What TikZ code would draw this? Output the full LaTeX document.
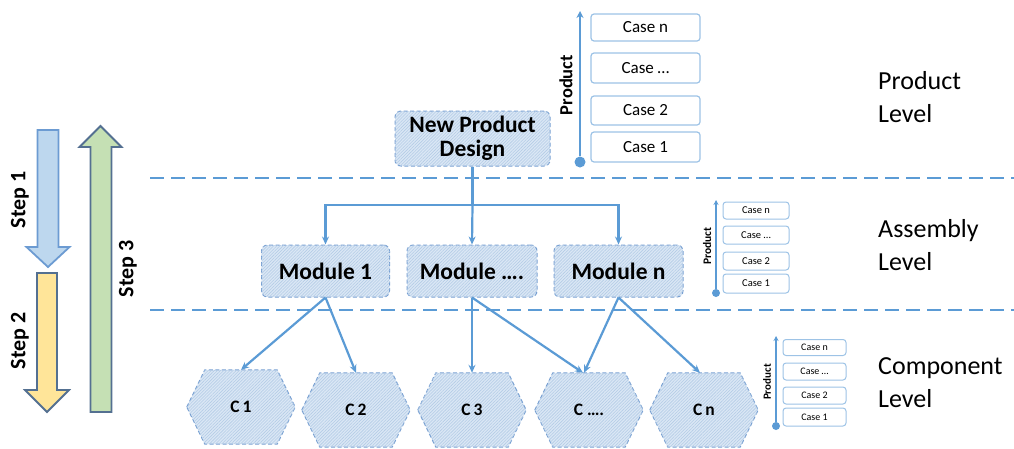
\documentclass[tikz,border=0pt]{standalone}
\usepackage{fontspec}
\setmainfont{Carlito}
\usetikzlibrary{arrows.meta,backgrounds,patterns.meta,calc}
\definecolor{lineblue}{RGB}{91,155,213}
\definecolor{nodeedge}{RGB}{120,160,210}
\definecolor{nodefill}{RGB}{218,231,245}
\definecolor{hatch}{RGB}{180,204,230}
\definecolor{caseedge}{RGB}{157,195,230}
\definecolor{sonefill}{RGB}{189,215,238}
\definecolor{soneedge}{RGB}{108,155,210}
\definecolor{stwofill}{RGB}{255,229,153}
\definecolor{sthreefill}{RGB}{197,224,180}
\definecolor{slate}{RGB}{84,112,145}
\newcommand{\fsz}[2][1.1]{\fontsize{#2}{#1\dimexpr #2pt\relax}\selectfont}
\tikzset{
  levelsep/.style={draw=lineblue, line width=2.6pt, dash pattern=on 14pt off 7pt},
  conn/.style={draw=lineblue, line width=2.2pt},
  connarrow/.style={conn, -{Stealth[length=8pt,width=7pt]}},
  hatched/.style={fill=nodefill, postaction={pattern={Lines[angle=45,distance=2.2pt,line width=0.6pt]}, pattern color=hatch}},
  dashedge/.style={draw=nodeedge, line width=1pt, dash pattern=on 4pt off 2.5pt},
  design/.style={hatched, dashedge, rounded corners=6pt, align=center, inner sep=0pt, font=\bfseries\fontsize{23.5}{24}\selectfont},
  module/.style={hatched, dashedge, rounded corners=6pt, inner sep=0pt, minimum width=128pt, minimum height=52pt, font=\bfseries\fsz{23.5}},
  hexlabel/.style={inner sep=0pt, minimum width=108pt, minimum height=74pt, font=\bfseries\fsz{17.5}},
  hexshape/.style={hatched, dashedge},
  casebox/.style={draw=caseedge, line width=1.2pt, fill=white, rounded corners=3pt, inner sep=0pt},
  axisline/.style={draw=lineblue, line width=2.6pt, -{Stealth[length=7pt,width=7pt]}},
  axisdot/.style={circle, fill=lineblue, inner sep=0pt},
  levellabel/.style={anchor=base west, inner sep=0pt, font=\fsz{26}},
  steplabel/.style={rotate=90, inner sep=0pt, font=\bfseries\fsz{22}}
}
\begin{document}
\begin{tikzpicture}[x=1pt,y=-1pt]
\useasboundingbox (0,0) rectangle (1014,448);

% level separators
\coordinate (sepAl) at (150,178); \coordinate (sepAr) at (1014,178);
\coordinate (sepBl) at (150,310); \coordinate (sepBr) at (1014,310);
\draw[levelsep] (sepAl) -- (sepAr);
\draw[levelsep] (sepBl) -- (sepBr);

% step arrows
\draw[fill=sonefill, draw=soneedge, line width=1.8pt, line join=miter]
  (37.5,130) -- (58.5,130) -- (58.5,247) -- (69.5,247) -- (48,267) -- (26.5,247) -- (37.5,247) -- cycle;
\draw[fill=stwofill, draw=slate, line width=1.8pt, line join=miter]
  (37,273) -- (57,273) -- (57,390) -- (69,390) -- (47,412) -- (25,390) -- (37,390) -- cycle;
\draw[fill=sthreefill, draw=slate, line width=1.8pt, line join=miter]
  (90.5,412) -- (111.5,412) -- (111.5,147) -- (121.5,147) -- (100.5,126) -- (79.5,147) -- (90.5,147) -- cycle;
\node[steplabel] (s1) at (20,200) {Step 1};
\node[steplabel] (s2) at (20,341) {Step 2};
\node[steplabel] (s3) at (128,269) {Step 3};

% product level
\node[design, minimum width=155pt, minimum height=55pt] (npd) at (472.5,138.5) {New Product\\Design};

\node[axisdot, minimum size=11pt] (pdot) at (580,162) {};
\coordinate (ptop) at (580,11);
\draw[axisline] (pdot) -- (ptop);
\node[rotate=90, inner sep=0pt, font=\bfseries\fsz{18.5}] (plab) at (566,85) {Product};
\node[casebox, minimum width=109pt, minimum height=27pt, font=\fsz{17}] (pcn) at (645.5,27.5) {Case n};
\node[casebox, minimum width=109pt, minimum height=30pt, font=\fsz{17}] (pcd) at (645.5,68) {Case \ldots};
\node[casebox, minimum width=109pt, minimum height=29pt, font=\fsz{17}] (pc2) at (645.5,110.5) {Case 2};
\node[casebox, minimum width=109pt, minimum height=30pt, font=\fsz{17}] (pc1) at (645.5,147) {Case 1};

\node[levellabel] (lp1) at (878,89) {Product};
\node[levellabel] (lp2) at (878,122) {Level};

% assembly level
\node[module] (m1) at (325.5,271) {Module 1};
\node[module, minimum width=130pt] (m2) at (472,271) {Module \ldots.};
\node[module, minimum width=129pt] (mn) at (618.5,271) {Module n};

\coordinate (hub) at (472.5,205);
\draw[conn] (npd.south) -- (hub);
\draw[connarrow] (hub) -| (m1.north);
\draw[connarrow] (hub) -- (m2.north);
\draw[connarrow] (hub) -| (mn.north);

\node[axisdot, minimum size=8pt] (adot) at (716,293) {};
\coordinate (atop) at (716,200);
\draw[axisline, line width=1.8pt, -{Stealth[length=5pt,width=5pt]}] (adot) -- (atop);
\node[rotate=90, inner sep=0pt, font=\bfseries\fsz{11.5}] (alab) at (707,246) {Product};
\node[casebox, line width=1pt, minimum width=66pt, minimum height=17pt, font=\fsz{10.5}] (acn) at (756,210.5) {Case n};
\node[casebox, line width=1pt, minimum width=66pt, minimum height=18pt, font=\fsz{10.5}] (acd) at (756,235) {Case \ldots};
\node[casebox, line width=1pt, minimum width=66pt, minimum height=18pt, font=\fsz{10.5}] (ac2) at (756,261) {Case 2};
\node[casebox, line width=1pt, minimum width=66pt, minimum height=19pt, font=\fsz{10.5}] (ac1) at (756,283.5) {Case 1};

\node[levellabel] (la1) at (878,237) {Assembly};
\node[levellabel] (la2) at (878,270) {Level};

% component level
\node[hexlabel] (c1) at (241,407) {C\,1};
\node[hexlabel] (c2) at (356,410) {C\,2};
\node[hexlabel] (c3) at (472,410) {C\,3};
\node[hexlabel] (c4) at (589,410) {C \ldots.};
\node[hexlabel] (c5) at (704,410) {C\,n};
\begin{scope}[on background layer]
\foreach \h in {c1,c2,c3,c4,c5}
  \draw[hexshape] (\h.west) -- ([xshift=18pt]\h.north west) -- ([xshift=-18pt]\h.north east)
     -- (\h.east) -- ([xshift=-18pt]\h.south east) -- ([xshift=18pt]\h.south west) -- cycle;
\end{scope}

\draw[connarrow] (m1.south) -- (c1.north);
\draw[connarrow] (m1.south) -- (c2.north);
\draw[connarrow] (m2.south) -- (c3.north);
\draw[connarrow] (m2.south) -- ([xshift=-6pt]c4.north);
\draw[connarrow] (mn.south) -- ([xshift=-5pt]c4.north);
\draw[connarrow] (mn.south) -- ([xshift=-4pt]c5.north);

\node[axisdot, minimum size=8pt] (cdot) at (776,426) {};
\coordinate (ctop) at (776,336);
\draw[axisline, line width=1.8pt, -{Stealth[length=5pt,width=5pt]}] (cdot) -- (ctop);
\node[rotate=90, inner sep=0pt, font=\bfseries\fsz{11}] (clab) at (767,382) {Product};
\node[casebox, line width=1pt, minimum width=63pt, minimum height=16pt, font=\fsz{10}] (ccn) at (814.5,347.5) {Case n};
\node[casebox, line width=1pt, minimum width=63pt, minimum height=17pt, font=\fsz{10}] (ccd) at (814.5,371.5) {Case \ldots};
\node[casebox, line width=1pt, minimum width=63pt, minimum height=17pt, font=\fsz{10}] (cc2) at (814.5,395.5) {Case 2};
\node[casebox, line width=1pt, minimum width=63pt, minimum height=18pt, font=\fsz{10}] (cc1) at (814.5,417) {Case 1};

\node[levellabel] (lc1) at (878,374) {Component};
\node[levellabel] (lc2) at (878,407) {Level};
\end{tikzpicture}
\end{document}
